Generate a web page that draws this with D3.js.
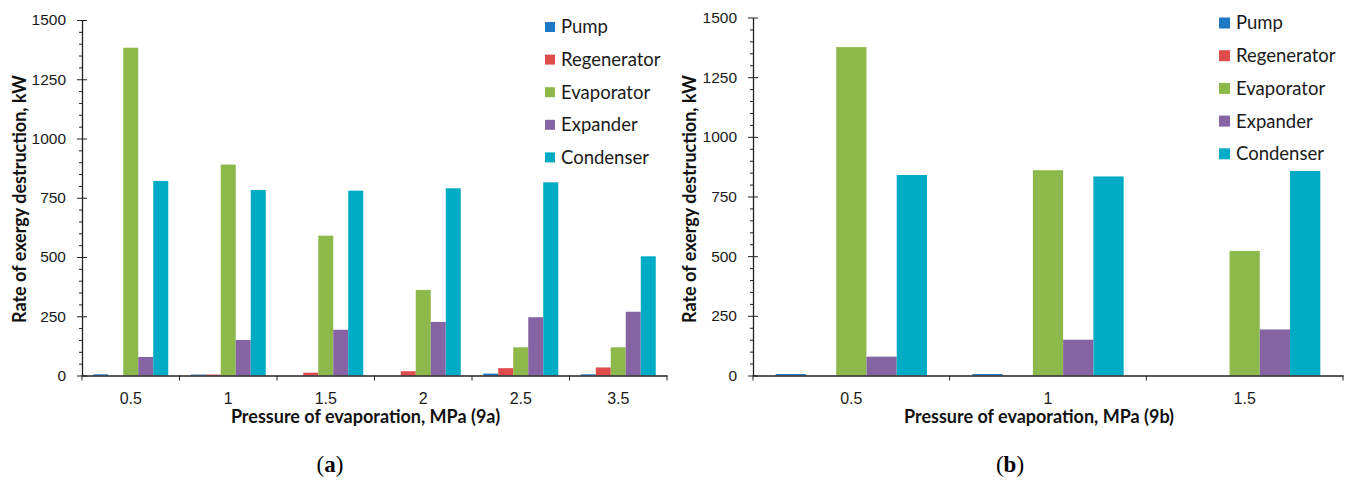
<!DOCTYPE html>
<html>
<head>
<meta charset="utf-8">
<script src="https://cdn.jsdelivr.net/npm/d3@7/dist/d3.min.js"></script>
<style>
  html, body { margin: 0; padding: 0; background: #fff; }
  svg { display: block; font-family: Lato, "Open Sans", sans-serif; }
</style>
</head>
<body>
<svg id="chart" width="1349" height="482"></svg>
<script>
// ---------- data ----------
const seriesNames = ["Pump", "Regenerator", "Evaporator", "Expander", "Condenser"];
const seriesColors = ["#1f78c3", "#e04b4b", "#8db94b", "#8664a3", "#00abc5"];
const yTicks = [0, 250, 500, 750, 1000, 1250, 1500];

// panel (a)
const catsA = ["0.5", "1", "1.5", "2", "2.5", "3.5"];
const pumpA = [5, 4, 0, 0, 8, 5];
const regenA = [0, 4, 12, 18, 31, 34];
const evapA = [1383, 890, 590, 361, 119, 119];
const expA = [78, 150, 193, 226, 246, 269];
const condA = [821, 783, 780, 790, 815, 503];
const titleA = "Pressure of evaporation, MPa (9a)";

// panel (b)
const catsB = ["0.5", "1", "1.5"];
const pumpB = [6, 6, 0];
const regenB = [0, 0, 0];
const evapB = [1376, 860, 522];
const expB = [79, 150, 193];
const condB = [840, 834, 857];
const titleB = "Pressure of evaporation, MPa (9b)";

const yTitle = "Rate of exergy destruction, kW";

// ---------- drawing ----------
const svg = d3.select("#chart");

function panel(cfg) {
  const g = svg.append("g");
  const values = [cfg.pump, cfg.regen, cfg.evap, cfg.exp, cfg.cond];
  const x0 = d3.scaleBand().domain(cfg.cats).range([cfg.left, cfg.right]).padding(0);
  const x1 = d3.scaleBand().domain(seriesNames).range([0, x0.bandwidth()])
    .paddingInner(0).paddingOuter(0.75);
  const y = d3.scaleLinear().domain([0, 1500]).range([cfg.bottom, cfg.top]);

  // bars
  cfg.cats.forEach((c, ci) => {
    seriesNames.forEach((s, si) => {
      const v = values[si][ci];
      if (v <= 0) return;
      g.append("rect")
        .attr("x", x0(c) + x1(s))
        .attr("y", y(v))
        .attr("width", x1.bandwidth())
        .attr("height", y(0) - y(v))
        .attr("fill", seriesColors[si]);
    });
  });

  // y axis minor ticks
  const minor = d3.range(0, 1501, 50).filter(v => v % 250 !== 0);
  g.append("g").attr("transform", `translate(${cfg.left},0)`)
    .call(d3.axisLeft(y).tickValues(minor).tickSize(3).tickFormat(""))
    .call(a => a.select(".domain").remove())
    .selectAll("line").attr("stroke", "#222");

  // y axis major
  const ya = g.append("g").attr("transform", `translate(${cfg.left},0)`)
    .call(d3.axisLeft(y).tickValues(yTicks).tickSize(5).tickPadding(11)
      .tickSizeOuter(0).tickFormat(d3.format("d")));
  ya.selectAll(".tick line").attr("x1", 5).attr("stroke", "#222");
  ya.select(".domain").attr("stroke", "#222").attr("stroke-width", 1.3);
  ya.selectAll("text").attr("font-size", 15.5).attr("fill", "#1a1a1a");

  // x axis
  const xa = g.append("g").attr("transform", `translate(0,${cfg.bottom})`)
    .call(d3.axisBottom(x0).tickSize(0).tickPadding(17).tickSizeOuter(0));
  xa.select(".domain").attr("stroke", "#222").attr("stroke-width", 1.3);
  xa.selectAll("text").attr("font-size", 16).attr("fill", "#1a1a1a");
  const bounds = cfg.cats.map(c => x0(c)).concat([x0.range()[1]]);
  g.selectAll(null).data(bounds).join("line")
    .attr("x1", d => d).attr("x2", d => d)
    .attr("y1", cfg.bottom).attr("y2", cfg.bottom + 5)
    .attr("stroke", "#222");

  // titles
  g.append("text")
    .attr("x", (cfg.left + cfg.right) / 2 - 9)
    .attr("y", 423)
    .attr("text-anchor", "middle")
    .attr("font-weight", "bold")
    .attr("font-size", 18)
    .attr("fill", "#111")
    .text(cfg.xTitle);

  g.append("text")
    .attr("transform", `translate(${cfg.yTitleX},199) rotate(-90)`)
    .attr("text-anchor", "middle")
    .attr("font-weight", "bold")
    .attr("font-size", 18)
    .attr("fill", "#111")
    .text(yTitle);

  // legend
  const lg = g.append("g");
  seriesNames.forEach((s, i) => {
    const cy = cfg.legY + i * cfg.legStep;
    lg.append("rect")
      .attr("x", cfg.legX).attr("y", cy - cfg.legSq / 2)
      .attr("width", cfg.legSq).attr("height", cfg.legSq)
      .attr("fill", seriesColors[i]);
    lg.append("text")
      .attr("x", cfg.legX + cfg.legSq + 6)
      .attr("y", cy)
      .attr("dy", "0.35em")
      .attr("font-size", 18.5)
      .attr("fill", "#1a1a1a")
      .text(s);
  });

  // caption
  const cap = g.append("text")
    .attr("x", cfg.capX).attr("y", 472)
    .attr("text-anchor", "middle")
    .attr("font-family", "'Liberation Serif', 'DejaVu Serif', serif")
    .attr("font-size", 23)
    .attr("fill", "#000");
  cap.append("tspan").text("(");
  cap.append("tspan").attr("font-weight", "bold").text(cfg.capLetter);
  cap.append("tspan").text(")");
}

panel({
  cats: catsA, pump: pumpA, regen: regenA, evap: evapA, exp: expA, cond: condA,
  left: 82, right: 667, top: 20, bottom: 375.5,
  xTitle: titleA, yTitleX: 26,
  legX: 545, legY: 27, legStep: 32.6, legSq: 10,
  capX: 330, capLetter: "a"
});

panel({
  cats: catsB, pump: pumpB, regen: regenB, evap: evapB, exp: expB, cond: condB,
  left: 753, right: 1343, top: 17.5, bottom: 375.5,
  xTitle: titleB, yTitleX: 696,
  legX: 1219, legY: 23, legStep: 32.7, legSq: 11,
  capX: 1010, capLetter: "b"
});
</script>
</body>
</html>
